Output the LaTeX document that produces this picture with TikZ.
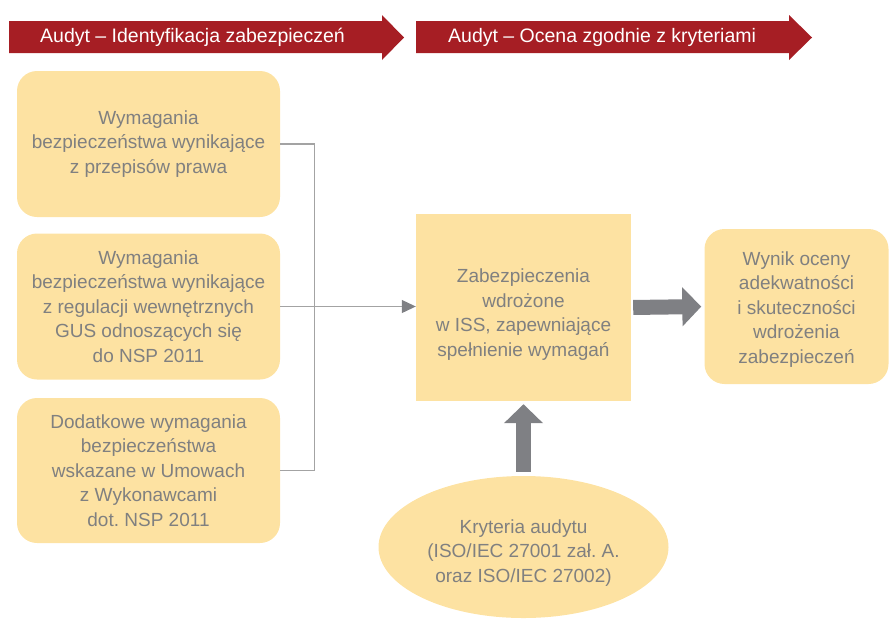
\documentclass[tikz,border=0pt]{standalone}
\usepackage{fontspec}
\setmainfont{Liberation Sans}
\usetikzlibrary{arrows.meta,shapes.geometric}
\definecolor{bannerred}{HTML}{A61E24}
\definecolor{boxfill}{HTML}{FDE2A2}
\definecolor{txtgray}{HTML}{808080}
\definecolor{linegray}{HTML}{A3A3A3}
\definecolor{arrowgray}{HTML}{7F8084}
\frenchspacing
\begin{document}
\begin{tikzpicture}[x=1pt,y=-1pt,
  boxtext/.style={font=\fontsize{19}{24.5}\selectfont, text=txtgray, align=center},
  reqbox/.style={boxtext, fill=boxfill, rounded corners=20pt, minimum width=263pt,
                 minimum height=146pt, inner sep=0pt},
  mainbox/.style={fill=boxfill, minimum width=215pt, minimum height=187pt, inner sep=0pt},
  resbox/.style={fill=boxfill, rounded corners=20pt, minimum width=184pt,
                 minimum height=155pt, inner sep=0pt},
  critbox/.style={ellipse, fill=boxfill, minimum width=290pt, minimum height=142pt, inner sep=0pt},
  banner/.style={fill=bannerred},
  bannertext/.style={font=\fontsize{19.5}{22}\selectfont, text=white, anchor=west, inner sep=0pt},
  conn/.style={draw=linegray, line width=1.1pt},
  bigarrow/.style={draw=arrowgray, line width=15pt, -{Triangle[length=19pt,width=38pt]}}
]
\useasboundingbox (0,0) rectangle (890,619);

% phase banners
\fill[banner] (9,21) -- (382,21) -- (382,15) -- (404,37.5) -- (382,60) -- (382,53) -- (9,53) -- cycle;
\node[bannertext] (ph1) at (40,37.5) {Audyt – Identyfikacja zabezpieczeń};
\fill[banner] (416,21) -- (789,21) -- (789,15) -- (812,37.5) -- (789,60) -- (789,53) -- (416,53) -- cycle;
\node[bannertext] (ph2) at (448,37.5) {Audyt – Ocena zgodnie z kryteriami};

% requirement sources
\node[reqbox] (b1) at (148.5,144) {Wymagania\\bezpieczeństwa wynikające\\z przepisów prawa};
\node[reqbox] (b2) at (148.5,306.5) {Wymagania\\bezpieczeństwa wynikające\\z regulacji wewnętrznych\\GUS odnoszących się\\do NSP 2011};
\node[reqbox, minimum height=145pt] (b3) at (148.5,470.5) {Dodatkowe wymagania\\bezpieczeństwa\\wskazane w Umowach\\z Wykonawcami\\dot. NSP 2011};

% implemented safeguards
\node[mainbox] (m) at (523.5,307.5) {};
\node[boxtext] (mt) at ([yshift=-7pt]m.center) {Zabezpieczenia\\wdrożone\\w ISS, zapewniające\\spełnienie wymagań};

% assessment result
\node[resbox] (r) at (796.5,306.5) {};
\node[boxtext] (rt) at ([yshift=-3pt]r.center) {Wynik oceny\\adekwatności\\i skuteczności\\wdrożenia\\zabezpieczeń};

% audit criteria
\node[critbox] (k) at (523.5,547) {};
\node[boxtext] (kt) at ([yshift=-6pt]k.center) {Kryteria audytu\\(ISO/IEC 27001 zał. A.\\oraz ISO/IEC 27002)};

% connectors
\draw[conn] (b1.east) -- ++(34,0) |- (b3.east);
\draw[conn, -{Triangle[length=14pt,width=13pt,color=arrowgray]}] (b2.east) -- (b2.east -| m.west);
\draw[bigarrow, shorten <=2pt, shorten >=3pt] (m.east) -- (r.west);
\draw[bigarrow, shorten <=4pt, shorten >=3pt] (k.north) -- (m.south);
\end{tikzpicture}
\end{document}
